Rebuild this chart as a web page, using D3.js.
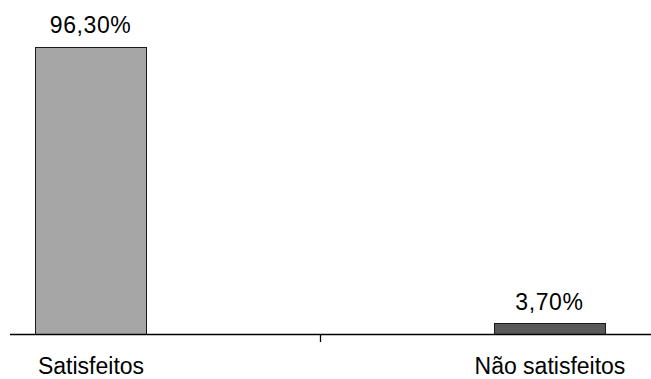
<!DOCTYPE html>
<html>
<head>
<meta charset="utf-8">
<script src="https://cdn.jsdelivr.net/npm/d3@7"></script>
<style>
  html, body { margin: 0; padding: 0; background: #fff; }
  svg { display: block; }
  text { font-family: "Liberation Sans", Arial, sans-serif; fill: #000; }
</style>
</head>
<body>
<svg id="chart" width="651" height="379"></svg>
<script>
// Satisfaction survey results
const categories = ["Satisfeitos", "Não satisfeitos"];
const values = [96.3, 3.7];
const valueLabels = ["96,30%", "3,70%"];
const barColors = ["#a6a6a6", "#595959"];

const svg = d3.select("#chart");
const baseY = 334;

const x = d3.scaleBand()
  .domain(categories)
  .range([10, 630])
  .paddingInner(0.758)
  .paddingOuter(0.0545);

const y = d3.scaleLinear()
  .domain([0, 100])
  .range([baseY, baseY - 298.3]);

// bars
svg.selectAll("rect.bar")
  .data(categories)
  .join("rect")
  .attr("class", "bar")
  .attr("x", d => Math.round(x(d)) + 0.5)
  .attr("y", (d, i) => Math.round(y(values[i])) + 0.5)
  .attr("width", Math.round(x.bandwidth()))
  .attr("height", (d, i) => baseY - Math.round(y(values[i])))
  .attr("fill", (d, i) => barColors[i])
  .attr("stroke", "#1a1a1a")
  .attr("stroke-width", 1);

// value labels
svg.selectAll("text.val")
  .data(categories)
  .join("text")
  .attr("class", "val")
  .attr("x", d => x(d) + x.bandwidth() / 2)
  .attr("y", (d, i) => y(values[i]) - 13.4)
  .attr("text-anchor", "middle")
  .attr("font-size", 23)
  .attr("letter-spacing", 0.6)
  .text((d, i) => valueLabels[i]);

// category axis: baseline and divider tick between the two categories
const axis = svg.append("g");
axis.append("line")
  .attr("x1", 10).attr("x2", 651)
  .attr("y1", baseY + 0.5).attr("y2", baseY + 0.5)
  .attr("stroke", "#000").attr("stroke-width", 1.3);

const mid = (x(categories[0]) + x.bandwidth() / 2 + x(categories[1]) + x.bandwidth() / 2) / 2;
axis.append("line")
  .attr("x1", Math.round(mid) + 0.5).attr("x2", Math.round(mid) + 0.5)
  .attr("y1", baseY).attr("y2", baseY + 8)
  .attr("stroke", "#000").attr("stroke-width", 1.3);

axis.selectAll("text.cat")
  .data(categories)
  .join("text")
  .attr("class", "cat")
  .attr("x", d => x(d) + x.bandwidth() / 2 + 0.5)
  .attr("y", 374)
  .attr("text-anchor", "middle")
  .attr("font-size", 23)
  .text(d => d);
</script>
</body>
</html>
